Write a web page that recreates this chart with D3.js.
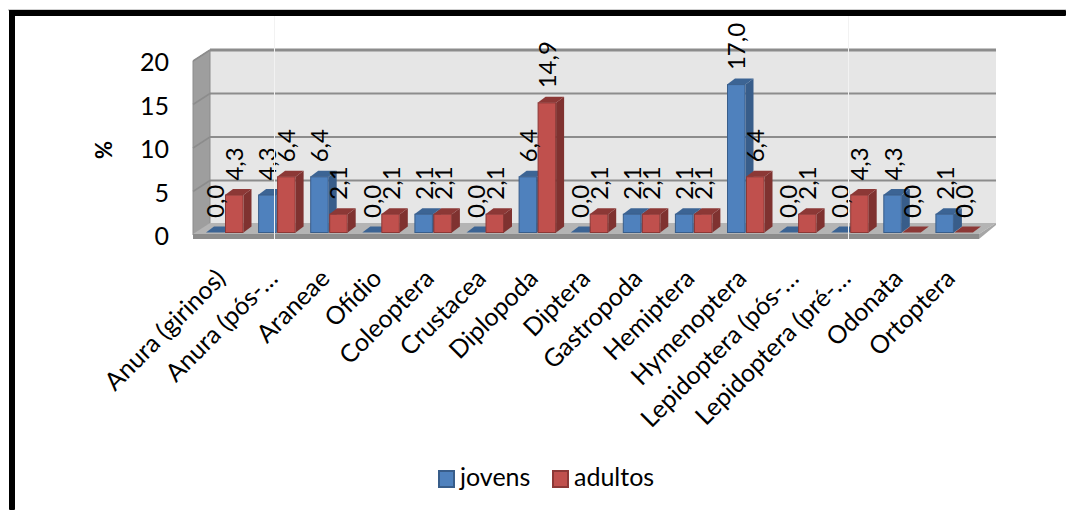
<!DOCTYPE html>
<html>
<head>
<meta charset="utf-8">
<script src="https://cdn.jsdelivr.net/npm/d3@7"></script>
<style>
html,body{margin:0;padding:0;background:#fff;overflow:hidden}
text{font-family:Lato,"Open Sans",sans-serif;fill:#000}
</style>
</head>
<body>
<svg id="chart" width="1066" height="510"></svg>
<script>
const categories = ["Anura (girinos)","Anura (pós-…","Araneae","Ofídio","Coleoptera","Crustacea","Diplopoda","Diptera","Gastropoda","Hemiptera","Hymenoptera","Lepidoptera (pós-…","Lepidoptera (pré-…","Odonata","Ortoptera"];
const jovens  = [0.0,4.3,6.4,0.0,2.1,0.0,6.4,0.0,2.1,2.1,17.0,0.0,0.0,4.3,2.1];
const adultos = [4.3,6.4,2.1,2.1,2.1,2.1,14.9,2.1,2.1,2.1,6.4,2.1,4.3,0.0,0.0];
const yTicks = [0,5,10,15,20];
const seriesNames = ["jovens","adultos"];
const seriesValues = [jovens, adultos];
const faces = [
  {front:"#4f81bd", side:"#385d8a", top:"#3c6494", stroke:"#385d8a"},
  {front:"#c0504d", side:"#7f3230", top:"#8c3836", stroke:"#8c3836"}
];

const svg = d3.select("#chart");
const wallLeft = 193, wallRight = 979;
const depthX = 17, depthY = 11;      // wall offset of the 3D box
const barDX = 8, barDY = 6;          // extrusion of each column

const x = d3.scaleBand().domain(categories).range([193, 974.5]);
const inner = d3.scaleBand().domain(seriesNames).range([13, 51]);
const y = d3.scaleLinear().domain([0, 20]).range([235, 61]);

// Frame drawn along the top and left of the page
svg.append("rect").attr("x", 8).attr("y", 9).attr("width", 1058).attr("height", 2).attr("fill", "#cfcfcf");
const frame = svg.append("g").attr("fill", "#000");
frame.append("rect").attr("x", 9).attr("y", 10).attr("width", 1057).attr("height", 6).attr("rx", 1);
frame.append("rect").attr("x", 9).attr("y", 10).attr("width", 6).attr("height", 500).attr("rx", 1);

// Back wall, side wall and floor
const plot = svg.append("g");
plot.append("rect")
  .attr("x", wallLeft + depthX).attr("y", y(20) - depthY)
  .attr("width", wallRight - wallLeft).attr("height", y(0) - y(20))
  .attr("fill", "#e6e6e6");
plot.append("polygon")
  .attr("points", [[wallLeft, y(20)], [wallLeft + depthX, y(20) - depthY], [wallLeft + depthX, y(0) - depthY], [wallLeft, y(0)]].join(" "))
  .attr("fill", "#9e9e9e").attr("stroke", "#8c8c8c");
plot.append("polygon")
  .attr("points", [[wallLeft, y(0) - 1], [wallLeft + depthX, y(0) - depthY - 1], [wallRight + depthX, y(0) - depthY - 1], [wallRight, y(0) - 1]].join(" "))
  .attr("fill", "#b4b4b4");
plot.append("polygon")
  .attr("points", [[wallLeft, y(0) - 1], [wallRight, y(0) - 1], [wallRight, y(0) + 4], [wallLeft, y(0) + 4]].join(" "))
  .attr("fill", "#8c8c8c");
plot.append("polygon")
  .attr("points", [[wallRight, y(0) - 1], [wallRight + depthX, y(0) - depthY - 1], [wallRight + depthX, y(0) - depthY + 1], [wallRight, y(0) + 4]].join(" "))
  .attr("fill", "#a6a6a6");

// Gridlines wrap from the side wall onto the back wall
yTicks.forEach(t => {
  const yb = y(t) - depthY;
  if (t > 0) {
    plot.append("line").attr("x1", wallLeft + depthX).attr("x2", wallRight + depthX)
      .attr("y1", yb).attr("y2", yb).attr("stroke", "#8c8c8c").attr("stroke-width", t === 20 ? 3 : 2);
    plot.append("line").attr("x1", wallLeft).attr("x2", wallLeft + depthX)
      .attr("y1", y(t)).attr("y2", yb).attr("stroke", "#8c8c8c").attr("stroke-width", 1.5);
  }
});

// Value axis tick labels
svg.append("g").selectAll("text").data(yTicks).join("text")
  .attr("x", 169).attr("y", d => y(d) + 1.5).attr("dy", "0.35em")
  .attr("text-anchor", "end").attr("font-size", 25).text(d => d);
svg.append("text")
  .attr("transform", "translate(112,150) rotate(-90)")
  .attr("text-anchor", "middle").attr("font-size", 22).attr("font-weight", "bold").text("%");

// Columns, painted series by series so the red faces sit over the blue sides
const fmt = v => v.toFixed(1).replace(".", ",");
const bars = svg.append("g");
const labels = svg.append("g");
categories.forEach((c, i) => {
  seriesNames.forEach((s, k) => {
    const v = seriesValues[k][i];
    const f = faces[k];
    const x0 = x(c) + inner(s), w = inner.bandwidth() - 0.5;
    const yt = y(v) - 2.5, yb = y(0) - 2.5;
    const g = bars.append("g");
    g.append("polygon")
      .attr("points", [[x0 + w, yt], [x0 + w + barDX, yt - barDY], [x0 + w + barDX, yb - barDY], [x0 + w, yb]].join(" "))
      .attr("fill", f.side);
    g.append("polygon")
      .attr("points", [[x0, yt], [x0 + barDX, yt - barDY], [x0 + w + barDX, yt - barDY], [x0 + w, yt]].join(" "))
      .attr("fill", f.top);
    if (v > 0) {
      g.append("rect").attr("x", x0 + 0.5).attr("y", yt).attr("width", w - 1).attr("height", yb - yt)
        .attr("fill", f.front).attr("stroke", f.stroke);
    }
    labels.append("text")
      .attr("transform", `translate(${x0 + w / 2 + 9},${yt - 14.5}) rotate(-90)`)
      .attr("font-size", 24).text(fmt(v));
  });
  svg.append("text")
    .attr("transform", `translate(${x(c) + x.bandwidth() / 2 + 8},${y(0) + 45}) rotate(-45)`)
    .attr("text-anchor", "end").attr("font-size", 25).text(c);
});

// Thin pale seams running down through the plot
[274, 848].forEach(sx => {
  svg.append("line").attr("x1", sx + 0.5).attr("x2", sx + 0.5).attr("y1", 16).attr("y2", 239)
    .attr("stroke", "#f2f2f2").attr("stroke-width", 1);
});

// Legend
const legendItems = [{name:"jovens", lx:438, tx:460}, {name:"adultos", lx:552, tx:574}];
legendItems.forEach((d, k) => {
  svg.append("rect").attr("x", d.lx + 1).attr("y", 471).attr("width", 15).attr("height", 16)
    .attr("fill", faces[k].front).attr("stroke", faces[k].stroke).attr("stroke-width", 2);
  svg.append("text").attr("x", d.tx).attr("y", 486).attr("font-size", 25).text(d.name);
});
</script>
</body>
</html>
